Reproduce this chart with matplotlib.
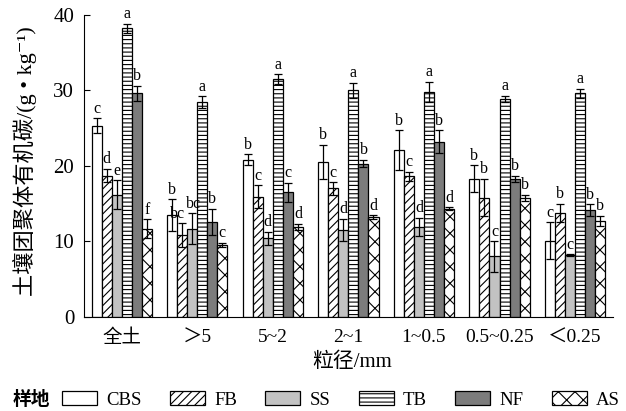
import matplotlib
matplotlib.use("Agg")
import matplotlib.pyplot as plt
import numpy as np

plt.rcParams['font.family'] = ['Liberation Serif', 'Noto Sans CJK SC', 'DejaVu Serif']
plt.rcParams['hatch.linewidth'] = 0.8

# 粒径分组
groups = ['全土', '＞5', '5~2', '2~1', '1~0.5', '0.5~0.25', '＜0.25']
sites = ['CBS', 'FB', 'SS', 'TB', 'NF', 'AS']

# 各样地均值
cbs = [25.3, 13.5, 20.8, 20.5, 22.1, 18.3, 10.1]
fb = [18.7, 10.8, 15.9, 17.0, 18.6, 15.8, 13.8]
ss = [16.2, 11.7, 10.4, 11.5, 11.9, 8.0, 8.2]
tb = [38.2, 28.4, 31.5, 30.0, 29.8, 28.9, 29.6]
nf = [29.6, 12.6, 16.5, 20.3, 23.2, 18.3, 14.1]
as_ = [11.7, 9.5, 11.9, 13.2, 14.3, 15.8, 12.7]

# 标准误
cbs_err = [1.0, 2.1, 0.75, 2.3, 2.6, 1.75, 2.4]
fb_err = [0.9, 1.6, 1.5, 0.8, 0.6, 2.5, 1.2]
ss_err = [1.9, 2.0, 0.9, 1.5, 1.2, 2.0, 0.1]
tb_err = [0.6, 0.8, 0.65, 1.0, 1.3, 0.4, 0.6]
nf_err = [1.0, 1.7, 1.25, 0.5, 1.5, 0.4, 0.8]
as_err = [1.2, 0.3, 0.4, 0.25, 0.2, 0.4, 0.7]

# 显著性字母
cbs_lab = ['c', 'b', 'b', 'b', 'b', 'b', 'c']
fb_lab = ['d', 'bc', 'c', 'c', 'c', 'b', 'b']
ss_lab = ['e', 'bc', 'd', 'd', 'd', 'c', 'c']
tb_lab = ['a', 'a', 'a', 'a', 'a', 'a', 'a']
nf_lab = ['b', 'b', 'c', 'b', 'b', 'b', 'b']
as_lab = ['f', 'c', 'd', 'd', 'd', 'b', 'b']

means = [cbs, fb, ss, tb, nf, as_]
errs = [cbs_err, fb_err, ss_err, tb_err, nf_err, as_err]
labs = [cbs_lab, fb_lab, ss_lab, tb_lab, nf_lab, as_lab]
colors = ['white', 'white', '#c2c2c2', 'white', '#7c7c7c', 'white']
hatches = [None, '////', None, '----', None, 'xx']

fig = plt.figure(figsize=(6.26, 4.11), dpi=100)
ax = fig.add_axes([0.134, 0.229, 0.845, 0.735])

x = np.arange(len(groups))
w = 0.133
for i in range(6):
    pos = x + (i - 2.5) * w
    ax.bar(pos, means[i], w, color=colors[i], edgecolor='black', linewidth=0.9,
           hatch=hatches[i], label=sites[i], zorder=2)
    ax.errorbar(pos, means[i], yerr=errs[i], fmt='none', ecolor='black',
                elinewidth=0.9, capsize=3, capthick=0.9, zorder=3)
    for j, (px, m, e, t) in enumerate(zip(pos, means[i], errs[i], labs[i])):
        dx = 0
        # >5 组两个 bc 稍微错开
        if j == 1 and i == 1:
            dx = -0.06
        if j == 1 and i == 2:
            dx = 0.02
        ax.text(px + dx, m + e + 0.2, t, ha='center', va='bottom', fontsize=11.5)

ax.set_xlim(-0.5, 6.5)
ax.set_ylim(0, 40)
ax.set_yticks([0, 10, 20, 30, 40])
ax.set_xticks(x)
ax.set_xticklabels(groups, fontsize=14)
ax.tick_params(axis='x', length=0, pad=9)
ax.tick_params(axis='y', direction='in', length=4, labelsize=15, pad=7)
for s in ['top', 'right']:
    ax.spines[s].set_visible(False)

fig.text(0.04, 0.608, '土壤团聚体有机碳/(g • kg⁻¹)', rotation=90,
         ha='center', va='center', fontsize=16)
fig.text(0.563, 0.119, '粒径/mm', ha='center', va='center', fontsize=15)

fig.text(0.02, 0.027, '样地', ha='left', va='center', fontsize=13.5,
         fontweight='bold', family=['Noto Sans CJK SC'])
fig.legend(loc='center left', bbox_to_anchor=(0.099, 0.027), ncol=6,
           frameon=False, fontsize=13.5, handlelength=1.87, handleheight=0.75,
           handletextpad=0.5, columnspacing=1.5, borderaxespad=0, borderpad=0)

plt.savefig('out.png', dpi=100)
